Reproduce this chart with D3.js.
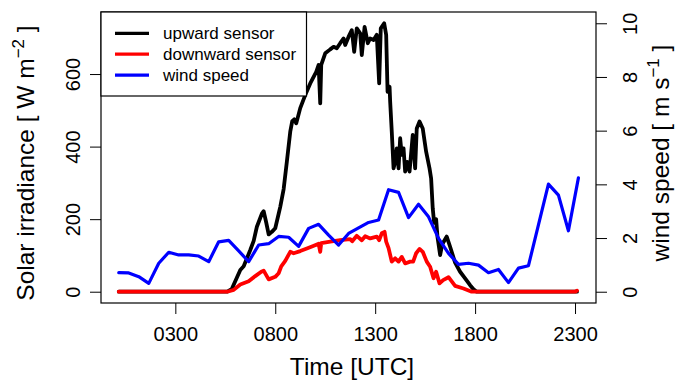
<!DOCTYPE html>
<html><head><meta charset="utf-8">
<script src="https://cdn.jsdelivr.net/npm/d3@7"></script>
<style>body{margin:0;background:#fff}svg{display:block}text{font-family:"Liberation Sans",Arial,Helvetica,sans-serif;fill:#000}</style>
</head><body><svg id="c" width="677" height="383"></svg>
<script>
// hours (UTC, decimal) and values
const upwardSensor = [
[0.17,0],[5.6,0],[5.75,5],[5.83,8],[6.25,60],[6.42,70],[6.75,115],[6.92,140],[7.08,179],[7.33,215],[7.42,222],[7.55,190],[7.67,158],[7.83,165],[8.0,175],[8.17,215],[8.25,234],[8.42,283],[8.58,358],[8.75,441],[8.85,470],[8.95,475],[9.05,464],[9.25,506],[9.5,542],[9.75,574],[10.05,606],[10.17,625],[10.25,519],[10.3,625],[10.5,657],[10.75,668],[10.92,675],[11.08,671],[11.25,685],[11.42,698],[11.5,680],[11.67,703],[11.83,721],[11.95,661],[12.08,726],[12.25,712],[12.33,652],[12.47,730],[12.63,685],[12.75,698],[12.92,694],[13.08,708],[13.2,574],[13.28,726],[13.45,740],[13.55,708],[13.62,551],[13.72,565],[13.75,524],[13.83,441],[13.92,340],[14.0,358],[14.08,395],[14.17,340],[14.25,423],[14.33,377],[14.42,395],[14.5,331],[14.6,358],[14.72,331],[14.88,432],[15.0,340],[15.08,450],[15.22,469],[15.38,450],[15.55,386],[15.72,340],[15.8,312],[15.88,230],[15.95,190],[16.05,200],[16.12,150],[16.25,101],[16.35,130],[16.58,152],[16.75,124],[17.0,80],[17.25,55],[17.5,37],[17.75,18],[17.92,7],[18.08,0],[23.1,0]
];
const downwardSensor = [
[0.17,0],[5.6,0],[5.92,5],[6.25,20],[6.67,29],[7.0,43],[7.3,55],[7.42,58],[7.67,34],[8.0,41],[8.17,51],[8.3,70],[8.5,85],[8.75,110],[8.92,106],[9.25,112],[9.58,119],[9.9,126],[10.17,132],[10.25,110],[10.3,134],[10.75,138],[11.25,142],[11.75,145],[11.85,139],[12.08,154],[12.33,142],[12.5,153],[12.75,147],[13.08,152],[13.2,142],[13.33,161],[13.47,165],[13.55,138],[13.67,120],[13.83,83],[14.0,92],[14.17,83],[14.33,96],[14.5,78],[14.75,83],[14.9,83],[15.05,106],[15.22,118],[15.38,110],[15.58,83],[15.75,69],[15.92,37],[16.05,55],[16.22,23],[16.4,32],[16.67,40],[17.0,16],[17.42,9],[17.83,0],[23.0,0],[23.1,3]
];
const windTime = [0.17,0.67,1.17,1.67,2.17,2.67,3.17,3.67,4.17,4.67,5.17,5.67,6.17,6.67,7.17,7.67,8.17,8.67,9.17,9.67,10.17,10.67,11.17,11.67,12.17,12.67,13.17,13.67,14.17,14.67,15.17,15.67,16.17,16.67,17.17,17.67,18.17,18.67,19.17,19.67,20.17,20.67,21.17,21.67,22.17,22.67,23.17];
const windSpeed = [0.71,0.70,0.56,0.31,1.06,1.47,1.37,1.37,1.33,1.12,1.86,1.91,1.52,1.12,1.74,1.79,2.06,2.03,1.69,2.36,2.51,2.11,1.74,2.17,2.38,2.58,2.67,3.80,3.70,2.76,3.26,2.79,1.99,1.43,1.02,1.06,0.99,0.71,0.83,0.34,0.88,0.97,2.49,4.01,3.60,2.27,4.24];
const xTicks = [3,8,13,18,23];
const xTickLabels = ["0300","0800","1300","1800","2300"];
const yLeftTicks = [0,200,400,600];
const yRightTicks = [0,2,4,6,8,10];
const legendLabels = ["upward sensor","downward sensor","wind speed"];
const colors = ["#000000","#ff0000","#0000ff"];

const svg = d3.select("#c");
const L=101,R=596,T=12,B=303;
const x = d3.scaleLinear().domain([-0.72,24.05]).range([L,R]);
const yL = d3.scaleLinear().domain([-31.1,771]).range([B,T]);
const yR = d3.scaleLinear().domain([-0.42,10.42]).range([B,T]);

const tickFont = 20;
// bottom axis
const gx = svg.append("g").attr("transform",`translate(0,${B})`)
  .call(d3.axisBottom(x).tickValues(xTicks).tickFormat((d,i)=>xTickLabels[i]).tickSize(11).tickSizeOuter(0));
gx.select(".domain").remove();
gx.selectAll("text").attr("y",38).attr("dy",0).style("font-size",tickFont+"px");
// left axis
const gl = svg.append("g").attr("transform",`translate(${L},0)`)
  .call(d3.axisLeft(yL).tickValues(yLeftTicks).tickSize(11).tickSizeOuter(0));
gl.select(".domain").remove();
gl.selectAll("text").attr("x",0).attr("dy",0).attr("text-anchor","middle")
  .attr("transform","translate(-21,0) rotate(-90)").style("font-size",tickFont+"px");
// right axis
const gr = svg.append("g").attr("transform",`translate(${R},0)`)
  .call(d3.axisRight(yR).tickValues(yRightTicks).tickSize(11).tickSizeOuter(0));
gr.select(".domain").remove();
gr.selectAll("text").attr("x",0).attr("dy",0).attr("text-anchor","middle")
  .attr("transform","translate(41,0) rotate(-90)").style("font-size",tickFont+"px");
svg.selectAll(".tick line").attr("stroke","#000");
svg.selectAll(".tick text").attr("fill","#000");
svg.selectAll("g").attr("font-family",null).attr("font-size",null);

// lines
const line = d3.line().x(d=>x(d[0])).y(d=>yL(d[1]));
const plot = svg.append("g");
plot.append("path").datum(upwardSensor).attr("d",line).attr("fill","none").attr("stroke",colors[0]).attr("stroke-width",3.8).attr("stroke-linejoin","round").attr("stroke-linecap","round");
plot.append("path").datum(downwardSensor).attr("d",line).attr("fill","none").attr("stroke",colors[1]).attr("stroke-width",3.8).attr("stroke-linejoin","round").attr("stroke-linecap","round");
const wline = d3.line().x((d,i)=>x(windTime[i])).y(d=>yR(d));
plot.append("path").datum(windSpeed).attr("d",wline).attr("fill","none").attr("stroke",colors[2]).attr("stroke-width",3.2).attr("stroke-linejoin","round").attr("stroke-linecap","round");

// box
svg.append("rect").attr("x",L).attr("y",T).attr("width",R-L).attr("height",B-T).attr("fill","none").attr("stroke","#000").attr("stroke-width",1.2);

// legend
const lg = svg.append("g");
lg.append("rect").attr("x",L).attr("y",T).attr("width",205.5).attr("height",84).attr("fill","#fff").attr("stroke","#000").attr("stroke-width",1.2);
legendLabels.forEach((t,i)=>{
  const yy = 33.3 + i*20.9;
  lg.append("line").attr("x1",115).attr("x2",149).attr("y1",yy).attr("y2",yy).attr("stroke",colors[i]).attr("stroke-width",3.2);
  lg.append("text").attr("x",163).attr("y",yy+6).style("font-size","17px").text(t);
});

// axis titles
const titleFont = 24.5;
svg.append("text").attr("x",352).attr("y",375).attr("text-anchor","middle").style("font-size",titleFont+"px").text("Time [UTC]");
const lt = svg.append("text").attr("text-anchor","middle").attr("transform","translate(34,163) rotate(-90)").style("font-size",titleFont+"px");
lt.append("tspan").text("Solar irradiance [ W m");
lt.append("tspan").attr("dy",-10).style("font-size","17px").text("\u22122");
lt.append("tspan").attr("dy",10).text(" ]");
const rt = svg.append("text").attr("text-anchor","middle").attr("transform","translate(669,153) rotate(-90)").style("font-size",titleFont+"px");
rt.append("tspan").text("wind speed [ m s");
rt.append("tspan").attr("dy",-10).style("font-size","17px").text("\u22121");
rt.append("tspan").attr("dy",10).text(" ]");
</script></body></html>
